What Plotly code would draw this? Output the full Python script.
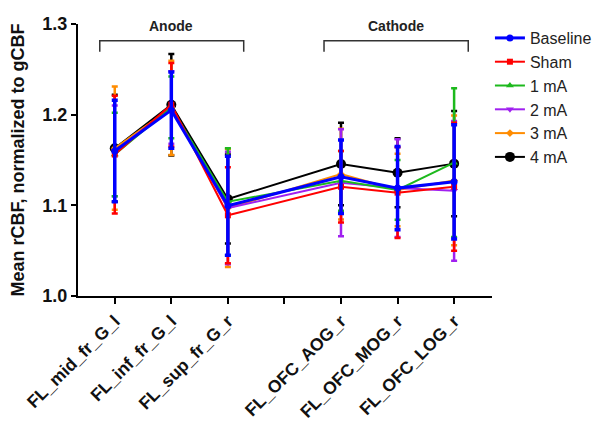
import plotly.graph_objects as go

categories = ["FL_mid_fr_G_l", "FL_inf_fr_G_l", "FL_sup_fr_G_r", "",
              "FL_OFC_AOG_r", "FL_OFC_MOG_r", "FL_OFC_LOG_r"]
x_pos = [0, 1, 2, 4, 5, 6]

baseline = [1.160, 1.205, 1.0995, 1.1315, 1.119, 1.126]
baseline_err = [0.056, 0.042, 0.0545, 0.0405, 0.046, 0.063]
sham = [1.156, 1.211, 1.089, 1.1205, 1.114, 1.1205]
sham_err = [0.065, 0.046, 0.053, 0.0395, 0.050, 0.0705]
ma1 = [1.156, 1.208, 1.104, 1.127, 1.117, 1.147]
ma1_err = [0.046, 0.034, 0.059, 0.033, 0.033, 0.082]
ma2 = [1.160, 1.208, 1.097, 1.125, 1.119, 1.116]
ma2_err = [0.050, 0.040, 0.062, 0.059, 0.054, 0.077]
ma3 = [1.163, 1.2076, 1.097, 1.1345, 1.117, 1.1275]
ma3_err = [0.068, 0.052, 0.065, 0.050, 0.040, 0.0715]
ma4 = [1.163, 1.211, 1.107, 1.1455, 1.136, 1.146]
ma4_err = [0.059, 0.056, 0.049, 0.0455, 0.038, 0.058]

y_ticks = [1.0, 1.1, 1.2, 1.3]

series = [
    ("Baseline", baseline, baseline_err, "#0000FF", "circle", 7, 3),
    ("Sham", sham, sham_err, "#FF0000", "square", 6, 2),
    ("1 mA", ma1, ma1_err, "#1DB91D", "triangle-up", 7, 2),
    ("2 mA", ma2, ma2_err, "#A020F0", "triangle-down", 7, 2),
    ("3 mA", ma3, ma3_err, "#FF8C00", "diamond", 6, 2),
    ("4 mA", ma4, ma4_err, "#000000", "circle", 10, 2),
]

fig = go.Figure()
for name, y, err, color, sym, size, lw in reversed(series):
    fig.add_trace(go.Scatter(
        x=x_pos, y=y, name=name, mode="lines+markers",
        line=dict(color=color, width=lw),
        marker=dict(color=color, symbol=sym, size=size),
        error_y=dict(type="data", array=err, visible=True,
                     color=color, thickness=lw + 0.5, width=3),
        cliponaxis=False,
    ))

font_family = "Liberation Sans, Arial, sans-serif"

# page body has an 8px default margin, so the figure is sized to fit the window
fig.update_layout(
    width=593, height=415,
    margin=dict(l=70, r=109, t=16, b=127, autoexpand=False),
    plot_bgcolor="white", paper_bgcolor="white",
    font=dict(family=font_family, color="#111111"),
    showlegend=True,
    legend=dict(traceorder="reversed", x=0.995, y=1.011, xanchor="left", yanchor="top",
                font=dict(size=16, family=font_family, color="#222222"),
                itemwidth=30, tracegroupgap=0, bgcolor="rgba(0,0,0,0)"),
    xaxis=dict(range=[-0.65, 6.67], tickmode="array",
               tickvals=list(range(len(categories))), ticktext=categories,
               tickangle=-45, showline=True, linecolor="black", linewidth=2,
               ticks="outside", ticklen=6, tickwidth=2, tickcolor="black",
               showgrid=False, zeroline=False,
               tickfont=dict(size=17.5, family=font_family, weight="bold", color="#111111")),
    yaxis=dict(range=[1.0, 1.3], tickmode="array", tickvals=y_ticks,
               tickformat=".1f", showline=True, linecolor="black", linewidth=2,
               ticks="outside", ticklen=5, tickwidth=2, tickcolor="black",
               showgrid=False, zeroline=False,
               tickfont=dict(size=18, family=font_family, weight="bold", color="#111111"),
               title=dict(text="Mean rCBF, normalized to gCBF", standoff=14,
                          font=dict(size=18, family=font_family, weight="bold", color="#111111"))),
)

# Brackets
for x0, x1 in [(-0.265, 2.28), (3.7, 6.25)]:
    fig.add_shape(type="path",
                  path=f"M {x0},1.2695 L {x0},1.2816 L {x1},1.2816 L {x1},1.2695",
                  xref="x", yref="y", line=dict(color="#333333", width=1.5))

fig.add_annotation(x=1.0, y=1.298, xref="x", yref="y", text="Anode", showarrow=False,
                   font=dict(size=14, family=font_family, weight="bold", color="#222222"))
fig.add_annotation(x=4.97, y=1.298, xref="x", yref="y", text="Cathode", showarrow=False,
                   font=dict(size=14, family=font_family, weight="bold", color="#222222"))

fig.write_html("out.html")
